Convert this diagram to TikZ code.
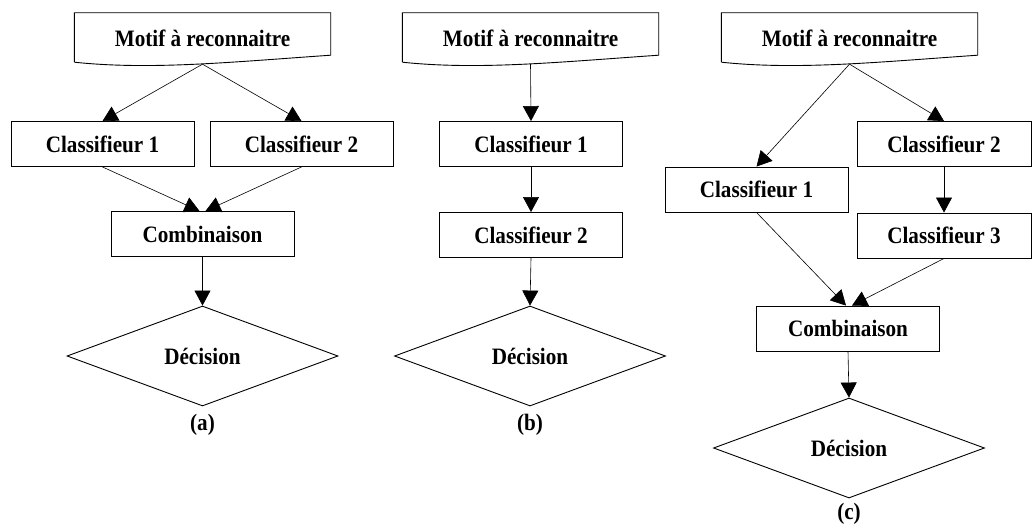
\documentclass[tikz,border=0pt]{standalone}
\usepackage{fontspec}
\setmainfont{Liberation Serif}[FakeStretch=0.9]
\usetikzlibrary{shapes.geometric,arrows.meta,calc}

% Wavy-bottomed "document" outline drawn around a named node
\newcommand\docoutline[1]{%
  \draw[line width=0.9pt]
    ($(#1.south west)+(0pt,2pt)$) -- (#1.north west) -- (#1.north east)
    -- ($(#1.south east)+(0pt,9pt)$)
    .. controls ($(#1.south east)+(-101pt,2pt)$) and ($(#1.south west)+(76pt,-6pt)$)
    .. ($(#1.south west)+(0pt,2pt)$);}

\begin{document}
\begin{tikzpicture}[x=1pt,y=-1pt,
  every node/.style={font=\fontsize{23.5}{27}\selectfont\bfseries},
  box/.style={draw, line width=0.9pt, rectangle, inner sep=0pt,
              minimum width=183pt, minimum height=45pt},
  doc/.style={rectangle, inner sep=0pt, minimum width=256pt, minimum height=51pt},
  decision/.style={draw, line width=0.9pt, diamond, inner sep=0pt,
                   minimum width=271pt, minimum height=100pt},
  link/.style={line width=0.6pt, -{Triangle[length=15pt,width=16pt]}},
  feed/.style={line width=0.6pt},
  caption/.style={inner sep=0pt}]

\useasboundingbox (0,0) rectangle (1032,524);

% ---------- (a) parallel combination ----------
\node[doc] (mA) at (202.5,38.5) {Motif à reconnaitre};
\docoutline{mA}
\node[box] (c1A) at (102.5,144) {Classifieur 1};
\node[box] (c2A) at (301.5,144) {Classifieur 2};
\node[box] (cbA) at (202.5,234) {Combinaison};
\node[decision] (dA) at (202.5,356) {Décision};
\node[caption] (lA) at (202.5,425) {(a)};

\draw[link] (mA.south) -- (c1A.north);
\draw[link] (mA.south) -- (c2A.north);
\draw[link] (c1A.south) -- ($(cbA.north)+(-3pt,0pt)$);
\draw[link] (c2A.south) -- ($(cbA.north)+(3pt,0pt)$);
\draw[link] (cbA.south) -- (dA.north);

% ---------- (b) sequential combination ----------
\node[doc] (mB) at (530.5,38.5) {Motif à reconnaitre};
\docoutline{mB}
\node[box] (c1B) at (531,144) {Classifieur 1};
\node[box] (c2B) at (531,235) {Classifieur 2};
\node[decision] (dB) at (530,356) {Décision};
\node[caption] (lB) at (530,425) {(b)};

\draw[link] (mB.south) -- (c1B.north);
\draw[link] (c1B.south) -- (c2B.north);
\draw[link] (c2B.south) -- (dB.north);

% ---------- (c) hybrid combination ----------
\node[doc] (mC) at (849.5,38.5) {Motif à reconnaitre};
\docoutline{mC}
\node[box] (c1C) at (756.5,189.5) {Classifieur 1};
\node[box, minimum width=174pt] (c2C) at (944,144) {Classifieur 2};
\node[box, minimum width=174pt] (c3C) at (944,235.5) {Classifieur 3};
\node[box] (cbC) at (848,328.5) {Combinaison};
\node[decision] (dC) at (849,448) {Décision};
\node[caption] (lC) at (849,514) {(c)};

\draw[link] (mC.south) -- (c1C.north);
\draw[link] (mC.south) -- (c2C.north);
\draw[link] (c2C.south) -- (c3C.north);
\draw[link] (c1C.south) -- ($(cbC.north)+(-2pt,0pt)$);
\draw[link] (c3C.south) -- ($(cbC.north)+(4pt,0pt)$);
\draw[link] (cbC.south) -- (dC.north);

\end{tikzpicture}
\end{document}
